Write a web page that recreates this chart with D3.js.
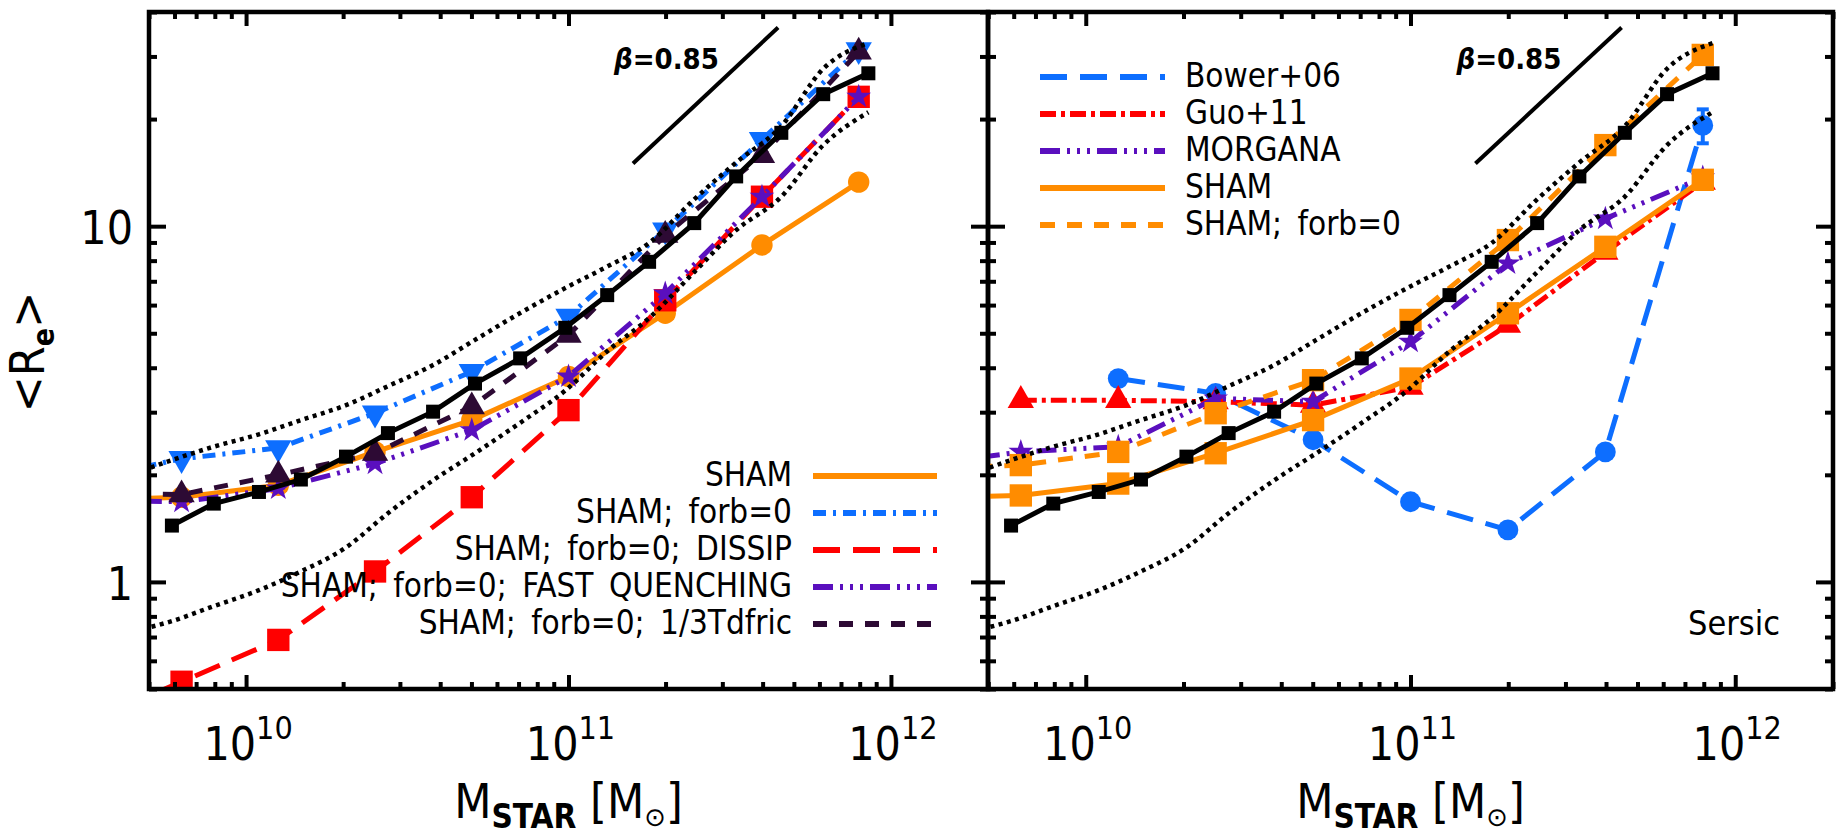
<!DOCTYPE html>
<html>
<head>
<meta charset="utf-8">
<script src="https://cdn.jsdelivr.net/npm/d3@7"></script>
<style>
  body { margin: 0; background: #fff; }
  text { font-family: "Liberation Sans Narrow", "DejaVu Sans Condensed", sans-serif; fill: #000; }
</style>
</head>
<body>
<div id="chart"></div>
<script>
// ---- data (log10 Mstar on x, <Re> on y) ----
const refLogM = [9.77, 9.90, 10.04, 10.17, 10.31, 10.44, 10.58, 10.71, 10.85, 10.99, 11.12, 11.25, 11.39, 11.52, 11.66, 11.79, 11.93];
const refRe = [1.44, 1.66, 1.79, 1.94, 2.25, 2.62, 3.01, 3.61, 4.25, 5.18, 6.40, 7.94, 10.2, 13.8, 18.3, 23.5, 26.9];

const bandLogM = [9.63, 9.77, 9.90, 10.04, 10.17, 10.31, 10.44, 10.58, 10.71, 10.85, 10.99, 11.12, 11.25, 11.39, 11.52, 11.66, 11.79, 11.93];
const bandUpper = [1.98, 2.20, 2.40, 2.60, 2.85, 3.14, 3.55, 4.07, 4.79, 5.70, 6.70, 7.70, 8.97, 11.9, 15.1, 19.1, 27.7, 32.7];
const bandLower = [0.72, 0.776, 0.855, 0.948, 1.07, 1.25, 1.56, 1.93, 2.30, 2.80, 3.45, 4.45, 5.52, 7.43, 9.75, 12.1, 16.9, 20.9];

const modelLogM = [9.5, 9.8, 10.1, 10.4, 10.7, 11.0, 11.3, 11.6, 11.9];
// left panel
const shamLeftRe = [1.70, 1.73, 1.87, 2.32, 2.85, 3.78, 5.69, 8.85, 13.3];
const forb0LeftRe = [1.94, 2.22, 2.38, 2.98, 3.90, 5.58, 9.75, 17.5, 31.3];
const dissipRe = [0.40, 0.524, 0.687, 1.07, 1.73, 3.04, 6.19, 12.1, 23.1];
const fastQuenchRe = [1.70, 1.68, 1.83, 2.15, 2.67, 3.78, 6.47, 12.1, 23.1];
const tdfricRe = [1.78, 1.76, 2.00, 2.30, 3.11, 4.94, 9.44, 15.8, 30.9];
// right panel
const bowerLogM = [10.1, 10.4, 10.7, 11.0, 11.3, 11.6, 11.9];
const bowerRe = [3.73, 3.39, 2.51, 1.68, 1.40, 2.32, 19.2];
const bowerErr = [0, 0, 0, 0, 0, 0, 2.1];
const guoLogM = [9.8, 10.1, 10.4, 10.7, 11.0, 11.3, 11.6, 11.9];
const guoRe = [3.24, 3.24, 3.21, 3.14, 3.53, 5.27, 8.45, 13.3];
const morganaRe = [2.13, 2.32, 2.40, 3.28, 3.21, 4.73, 7.85, 10.5, 13.7];
const shamRightRe = [1.72, 1.75, 1.89, 2.30, 2.85, 3.73, 5.69, 8.75, 13.5];
const forb0RightRe = [2.08, 2.13, 2.32, 2.98, 3.69, 5.45, 9.14, 16.9, 30.3];

// slope reference
const betaStartLogM = 11.2, betaStartRe = 15.0, betaEndLogM = 11.65, beta = 0.85;

const leftLegend = ["SHAM", "SHAM; forb=0", "SHAM; forb=0; DISSIP", "SHAM; forb=0; FAST QUENCHING", "SHAM; forb=0; 1/3Tdfric"];
const rightLegend = ["Bower+06", "Guo+11", "MORGANA", "SHAM", "SHAM; forb=0"];

// ---- layout ----
const W = 1836, H = 836;
const plotTop = 12, plotBottom = 689;
const orange = "#ff8c00", blue = "#0d6eff", red = "#ff0000", purple = "#5a0fbe", darkPurple = "#2d0a34";
const LW = 5;

const svg = d3.select("#chart").append("svg").attr("width", W).attr("height", H);
const y = d3.scaleLog().domain([0.5, 40]).range([plotBottom, plotTop]);

function makePanel(id, x0, x1) {
  const x = d3.scaleLog().domain([5e9, 2e12]).range([x0, x1]);
  const g = svg.append("g");
  g.append("clipPath").attr("id", "clip-" + id)
    .append("rect").attr("x", x0).attr("y", plotTop).attr("width", x1 - x0).attr("height", plotBottom - plotTop);
  const plot = g.append("g").attr("clip-path", `url(#clip-${id})`);
  return { x, g, plot, x0, x1 };
}

function drawSeries(p, s) {
  const pts = s.logM.map((m, i) => ({ m: Math.pow(10, m), r: s.re[i], e: s.err ? s.err[i] : 0 }));
  const line = d3.line().x(d => p.x(d.m)).y(d => y(d.r));
  p.plot.append("path").datum(pts)
    .attr("d", line)
    .attr("fill", "none")
    .attr("stroke", s.color)
    .attr("stroke-width", s.width || LW)
    .attr("stroke-dasharray", s.dash || null);
  if (s.err) {
    const eb = p.plot.selectAll(null).data(pts.filter(d => d.e > 0)).enter().append("g")
      .attr("stroke", s.color).attr("stroke-width", 4);
    eb.append("line").attr("x1", d => p.x(d.m)).attr("x2", d => p.x(d.m))
      .attr("y1", d => y(d.r - d.e)).attr("y2", d => y(d.r + d.e));
    eb.append("line").attr("x1", d => p.x(d.m) - 6).attr("x2", d => p.x(d.m) + 6)
      .attr("y1", d => y(d.r - d.e)).attr("y2", d => y(d.r - d.e));
    eb.append("line").attr("x1", d => p.x(d.m) - 6).attr("x2", d => p.x(d.m) + 6)
      .attr("y1", d => y(d.r + d.e)).attr("y2", d => y(d.r + d.e));
  }
  if (s.symbol) {
    p.plot.selectAll(null).data(pts).enter().append("path")
      .attr("transform", d => `translate(${p.x(d.m)},${y(d.r)}) rotate(${s.rot || 0})`)
      .attr("d", d3.symbol(s.symbol, s.size))
      .attr("fill", s.color);
  }
}

function drawReference(p) {
  const smooth = d3.curveMonotoneX;
  [bandUpper, bandLower].forEach(band => {
    const pts = bandLogM.map((m, i) => ({ m: Math.pow(10, m), r: band[i] }));
    p.plot.append("path").datum(pts)
      .attr("d", d3.line().curve(smooth).x(d => p.x(d.m)).y(d => y(d.r)))
      .attr("fill", "none").attr("stroke", "#000")
      .attr("stroke-width", 4.5).attr("stroke-dasharray", "4,4.5");
  });
  drawSeries(p, { logM: refLogM, re: refRe, color: "#000", symbol: d3.symbolSquare, size: 196 });
  // beta slope line
  const endRe = betaStartRe * Math.pow(10, beta * (betaEndLogM - betaStartLogM));
  p.plot.append("line")
    .attr("x1", p.x(Math.pow(10, betaStartLogM))).attr("y1", y(betaStartRe))
    .attr("x2", p.x(Math.pow(10, betaEndLogM))).attr("y2", y(endRe))
    .attr("stroke", "#000").attr("stroke-width", 4);
  const t = p.g.append("text")
    .attr("x", p.x(Math.pow(10, betaStartLogM)) - 19).attr("y", 69)
    .attr("font-size", 29).attr("font-weight", "bold");
  t.append("tspan").attr("font-style", "italic").text("β");
  t.append("tspan").text("=0.85");
}

function drawAxes(p, showY) {
  const xt = p.x.ticks();
  const isMajor = v => Math.abs(Math.log10(v) - Math.round(Math.log10(v))) < 1e-6;
  const xMajor = xt.filter(isMajor), xMinor = xt.filter(v => !isMajor(v));
  const yt = y.ticks();
  const yMajor = yt.filter(isMajor), yMinor = yt.filter(v => !isMajor(v));
  const ax = p.g.append("g");
  const tick = (sel) => sel.call(g => g.select(".domain").remove())
    .call(g => g.selectAll(".tick line").attr("stroke", "#000").attr("stroke-width", 4));

  [[xMinor, 7], [xMajor, 14]].forEach(([vals, len]) => {
    ax.append("g").attr("transform", `translate(0,${plotBottom})`)
      .call(d3.axisBottom(p.x).tickValues(vals).tickSize(-len).tickFormat("")).call(tick);
    ax.append("g").attr("transform", `translate(0,${plotTop})`)
      .call(d3.axisTop(p.x).tickValues(vals).tickSize(-len).tickFormat("")).call(tick);
  });
  [[yMinor, 8], [yMajor, 17]].forEach(([vals, len]) => {
    ax.append("g").attr("transform", `translate(${p.x0},0)`)
      .call(d3.axisLeft(y).tickValues(vals).tickSize(-len).tickFormat("")).call(tick);
    ax.append("g").attr("transform", `translate(${p.x1},0)`)
      .call(d3.axisRight(y).tickValues(vals).tickSize(-len).tickFormat("")).call(tick);
  });

  p.g.append("rect").attr("x", p.x0).attr("y", plotTop)
    .attr("width", p.x1 - p.x0).attr("height", plotBottom - plotTop)
    .attr("fill", "none").attr("stroke", "#000").attr("stroke-width", 4.5);

  // x tick labels 10^n
  const xl = p.g.selectAll(null).data(xMajor).enter().append("text")
    .attr("x", d => p.x(d) + 2).attr("y", 760)
    .attr("text-anchor", "middle").attr("font-size", 46);
  xl.append("tspan").text("10");
  xl.append("tspan").attr("dy", -21).attr("font-size", 32).text(d => Math.round(Math.log10(d)));

  if (showY) {
    p.g.selectAll(null).data(yMajor).enter().append("text")
      .attr("x", p.x0 - 16).attr("y", d => y(d) + 18)
      .attr("text-anchor", "end").attr("font-size", 46)
      .text(d => d3.format("d")(d));
  }

  // x axis title
  const xt2 = p.g.append("text").attr("x", (p.x0 + p.x1) / 2).attr("y", 818)
    .attr("text-anchor", "middle").attr("font-size", 48);
  xt2.append("tspan").text("M");
  xt2.append("tspan").attr("dy", 10).attr("font-size", 33).attr("font-weight", "bold").text("STAR");
  xt2.append("tspan").attr("dy", -10).text("\u00a0[M");
  xt2.append("tspan").attr("dy", 8).attr("font-size", 26).attr("font-family", "DejaVu Sans").text("\u2299");
  xt2.append("tspan").attr("dy", -8).text("]");
}

function drawLegend(p, items, labels, lineX0, lineX1, textX, anchor, lineY0, step) {
  const lg = p.g.append("g");
  items.forEach((s, i) => {
    const ly = lineY0 + i * step;
    lg.append("line").attr("x1", lineX0).attr("x2", s.legendEnd || lineX1)
      .attr("y1", ly).attr("y2", ly)
      .attr("stroke", s.color).attr("stroke-width", 6)
      .attr("stroke-dasharray", s.dash || null);
    lg.append("text").attr("x", textX).attr("y", ly + 10)
      .attr("text-anchor", anchor).attr("font-size", 33)
      .style("word-spacing", "6px")
      .text(labels[i]);
  });
}

// ---- left panel ----
const L = makePanel("left", 149, 988);
const leftSeries = [
  { logM: modelLogM, re: shamLeftRe, color: orange, symbol: d3.symbolCircle, size: 360 },
  { logM: modelLogM, re: forb0LeftRe, color: blue, dash: "13,7,3,7", symbol: d3.symbolTriangle, size: 300, rot: 180 },
  { logM: modelLogM, re: dissipRe, color: red, dash: "27,13", symbol: d3.symbolSquare, size: 500 },
  { logM: modelLogM, re: fastQuenchRe, color: purple, dash: "20,7,3,7,3,7,3,7", symbol: d3.symbolStar, size: 190 },
  { logM: modelLogM, re: tdfricRe, color: darkPurple, dash: "14,12", symbol: d3.symbolTriangle, size: 300, legendEnd: 932 }
];
leftSeries.forEach(s => drawSeries(L, s));
drawReference(L);
drawAxes(L, true);
drawLegend(L, leftSeries, leftLegend, 813, 937, 792, "end", 476, 37);

// y axis title
const yTitle = svg.append("text").attr("transform", "translate(44,352) rotate(-90)")
  .attr("text-anchor", "middle").attr("font-size", 48);
yTitle.append("tspan").text("<R");
yTitle.append("tspan").attr("dy", 10).attr("font-size", 30).attr("font-weight", "bold").text("e");
yTitle.append("tspan").attr("dy", -10).text(">");

// ---- right panel ----
const R = makePanel("right", 988, 1833);
const rightSeries = [
  { logM: bowerLogM, re: bowerRe, err: bowerErr, color: blue, dash: "27,13", symbol: d3.symbolCircle, size: 340 },
  { logM: guoLogM, re: guoRe, color: red, dash: "16,5,4,5", symbol: d3.symbolTriangle, size: 300 },
  { logM: modelLogM, re: morganaRe, color: purple, dash: "20,7,3,7,3,7,3,7", symbol: d3.symbolStar, size: 190 },
  { logM: modelLogM, re: shamRightRe, color: orange, symbol: d3.symbolSquare, size: 500 },
  { logM: modelLogM, re: forb0RightRe, color: orange, dash: "15,12", symbol: d3.symbolSquare, size: 500 }
];
rightSeries.forEach(s => drawSeries(R, s));
drawReference(R);
drawAxes(R, false);
drawLegend(R, rightSeries.map(s => Object.assign({}, s, { legendEnd: null })), rightLegend, 1040, 1165, 1185, "start", 77, 37);

R.g.append("text").attr("x", 1688).attr("y", 635).attr("font-size", 34).text("Sersic");
</script>
</body>
</html>
